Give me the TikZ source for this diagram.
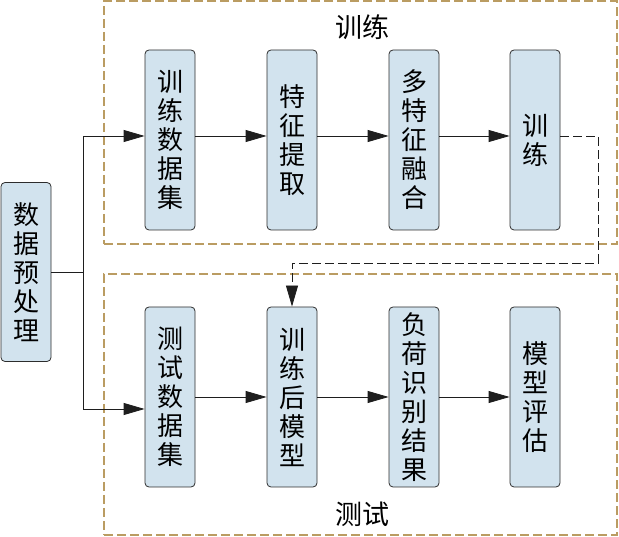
\documentclass[tikz,border=0pt]{standalone}
\usepackage{fontspec}
\newfontfamily\cjk{Noto Sans CJK SC}
\usepackage{xcolor}
\definecolor{boxblue}{RGB}{210,227,238}
\definecolor{boxedge}{RGB}{45,45,45}
\definecolor{grouptan}{RGB}{186,156,98}
\definecolor{lineblack}{RGB}{30,30,30}
\usetikzlibrary{positioning,arrows.meta}
\tikzset{
  stepbox/.style ={rectangle,rounded corners=4pt,draw=boxedge,fill=boxblue,line width=0.8pt,
                   align=center,minimum height=180pt,minimum width=50pt,inner sep=0pt,
                   font=\cjk\fontsize{26}{29}\selectfont},
  groupbox/.style={rectangle,dash pattern=on 9pt off 4pt,draw=grouptan,line width=1.2pt},
  grouptitle/.style={font=\cjk\fontsize{27}{30}\selectfont},
  flow/.style    ={-{Triangle[length=21pt,width=12pt]},line width=0.8pt,draw=lineblack},
  feedback/.style={flow,dash pattern=on 9pt off 4pt},
}
\begin{document}
\begin{tikzpicture}[x=1pt,y=1pt]
  \useasboundingbox (0,0) rectangle (619,536);
  % groups
  \node[groupbox,minimum width=513pt,minimum height=243pt] (trgroup) at (360.5,413.5) {};
  \node[groupbox,minimum width=513pt,minimum height=261pt] (tsgroup) at (360.5,131.5) {};
  \node[grouptitle] (trtitle) at (362,509) {训练};
  \node[grouptitle] (tstitle) at (362,22) {测试};
  % steps
  \node[stepbox,minimum height=179pt] (prep) at (26,264) {数\\据\\预\\处\\理};
  \node[stepbox] (trdata) at (170,396) {训\\练\\数\\据\\集};
  \node[stepbox] (feat)   at (292,396) {特\\征\\提\\取};
  \node[stepbox] (fuse)   at (414,396) {多\\特\\征\\融\\合};
  \node[stepbox] (train)  at (535,396) {训\\练};
  \node[stepbox] (tsdata) at (170,139) {测\\试\\数\\据\\集};
  \node[stepbox] (model)  at (292,139) {训\\练\\后\\模\\型};
  \node[stepbox] (result) at (414,139) {负\\荷\\识\\别\\结\\果};
  \node[stepbox] (eval)   at (535,139) {模\\型\\评\\估};
  \coordinate (split) at (83,264);
  \coordinate (fbturn) at (598,273);
  % connectors
  \draw[line width=0.8pt,draw=lineblack] (prep.east) -- (split);
  \draw[flow] (split) |- ([yshift=4pt]trdata.west);
  \draw[flow] (split) |- ([yshift=-12pt]tsdata.west);
  \draw[flow] ([yshift=4pt]trdata.east) -- ([yshift=4pt]feat.west);
  \draw[flow] ([yshift=4pt]feat.east) -- ([yshift=4pt]fuse.west);
  \draw[flow] ([yshift=4pt]fuse.east) -- ([yshift=4pt]train.west);
  \draw[feedback] ([yshift=4pt]train.east) -| (fbturn) -| (model.north);
  \draw[flow] (tsdata) -- (model);
  \draw[flow] (model) -- (result);
  \draw[flow] (result) -- (eval);
\end{tikzpicture}
\end{document}
